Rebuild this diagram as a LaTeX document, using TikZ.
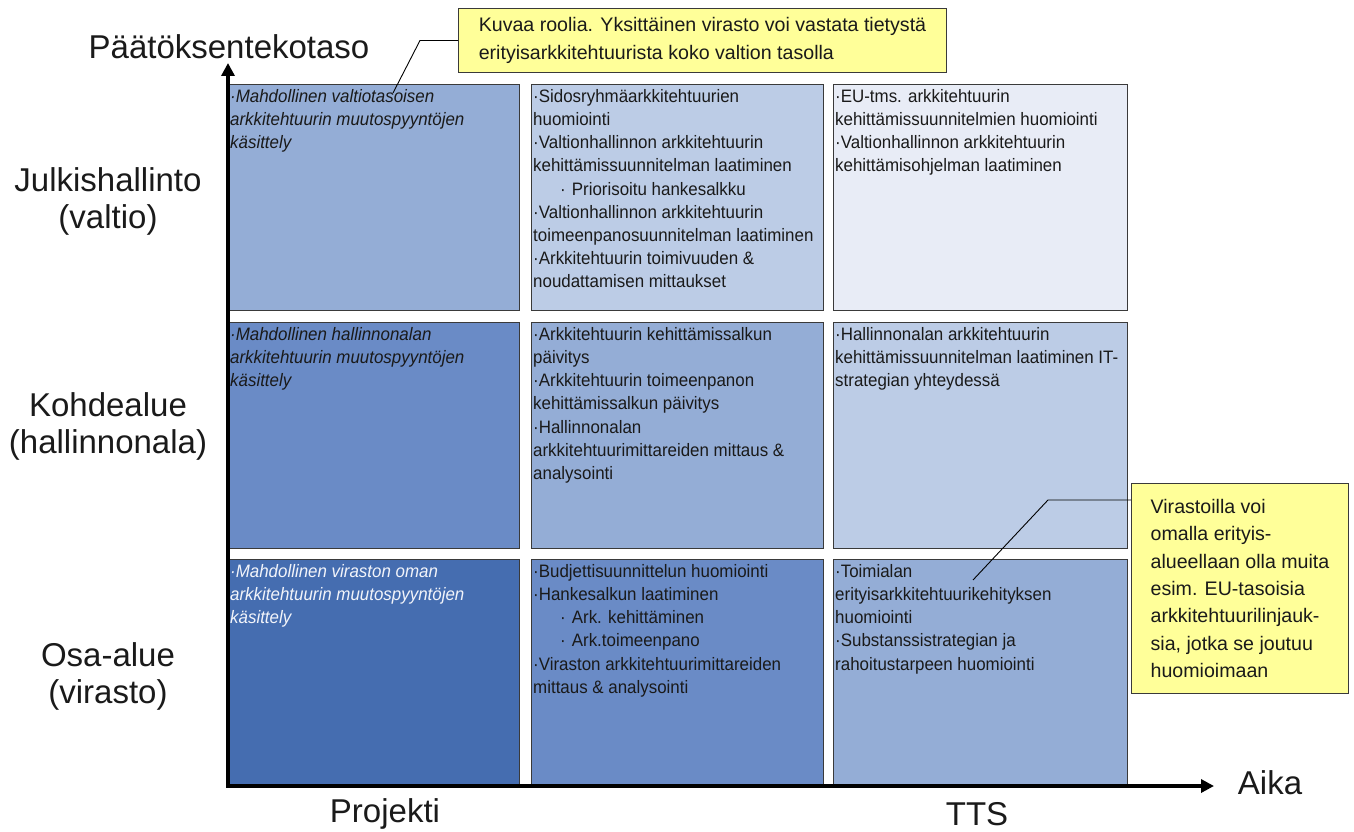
\documentclass[tikz,border=0pt]{standalone}
\usepackage{fontspec}
\setmainfont{Liberation Sans}
\newfontfamily\cellfont[FakeStretch=0.94]{Liberation Sans}
\usetikzlibrary{arrows.meta}

% cell fills, light to dark
\definecolor{blueA}{HTML}{E8ECF6}
\definecolor{blueB}{HTML}{BCCCE6}
\definecolor{blueC}{HTML}{94ADD6}
\definecolor{blueD}{HTML}{6A8BC6}
\definecolor{blueE}{HTML}{456DB0}
\definecolor{cellline}{HTML}{3A3A3A}
\definecolor{notefill}{HTML}{FFFF99}
\definecolor{inkdark}{HTML}{1A1A1A}
\definecolor{inklight}{HTML}{F2F4FA}

\newcommand\itemdot{·}
\newcommand\subdot{\hspace*{27pt}·\hspace{6pt}}
\newcommand\firstline{\rule{0pt}{13pt}}

\begin{document}
\begin{tikzpicture}[x=1pt,y=-1pt,
  cellbox/.style={draw=cellline, line width=1pt, anchor=north west, inner sep=0pt,
                  minimum width=292pt, minimum height=226pt},
  celltext/.style={anchor=north west, inner sep=0pt, align=left, text=inkdark,
                   font=\cellfont\fontsize{18}{23.2}\selectfont},
  notebox/.style={draw=cellline, line width=1pt, fill=notefill, anchor=north west,
                  align=left, text=inkdark, inner xsep=12pt,
                  font=\fontsize{19.6}{27.4}\selectfont},
  leader/.style={draw=black, line width=0.9pt},
  biglabel/.style={align=center, text=inkdark, font=\fontsize{33}{37}\selectfont},
  axis/.style={line width=4pt, -{Triangle[length=13pt,width=13pt]}}
]
\useasboundingbox (0,0) rectangle (1354,832);

% ---- grid of cells: rows = decision level, columns = time span ----
\node[cellbox, fill=blueC, minimum width=291pt] (c11) at (228,84)  {};
\node[cellbox, fill=blueB] (c12) at (531,84)  {};
\node[cellbox, fill=blueA, minimum width=294pt] (c13) at (833,84)  {};
\node[cellbox, fill=blueD, minimum width=291pt] (c21) at (228,322) {};
\node[cellbox, fill=blueC] (c22) at (531,322) {};
\node[cellbox, fill=blueB, minimum width=294pt] (c23) at (833,322) {};
\node[cellbox, fill=blueE, minimum width=291pt] (c31) at (228,559) {};
\node[cellbox, fill=blueD] (c32) at (531,559) {};
\node[cellbox, fill=blueC, minimum width=294pt] (c33) at (833,559) {};

% ---- cell contents ----
\node[celltext, font=\cellfont\fontsize{18}{23.2}\selectfont\itshape] (t11) at ([shift={(2,5)}]c11.north west)
  {\firstline\itemdot Mahdollinen valtiotasoisen\\arkkitehtuurin muutospyyntöjen\\käsittely};
\node[celltext] (t12) at ([shift={(2,5)}]c12.north west)
  {\firstline\itemdot Sidosryhmäarkkitehtuurien\\huomiointi\\
   \itemdot Valtionhallinnon arkkitehtuurin\\kehittämissuunnitelman laatiminen\\
   \subdot Priorisoitu hankesalkku\\
   \itemdot Valtionhallinnon arkkitehtuurin\\toimeenpanosuunnitelman laatiminen\\
   \itemdot Arkkitehtuurin toimivuuden \&\\noudattamisen mittaukset};
\node[celltext] (t13) at ([shift={(2,5)}]c13.north west)
  {\firstline\itemdot EU-tms. arkkitehtuurin\\kehittämissuunnitelmien huomiointi\\
   \itemdot Valtionhallinnon arkkitehtuurin\\kehittämisohjelman laatiminen};

\node[celltext, font=\cellfont\fontsize{18}{23.2}\selectfont\itshape] (t21) at ([shift={(2,5)}]c21.north west)
  {\firstline\itemdot Mahdollinen hallinnonalan\\arkkitehtuurin muutospyyntöjen\\käsittely};
\node[celltext] (t22) at ([shift={(2,5)}]c22.north west)
  {\firstline\itemdot Arkkitehtuurin kehittämissalkun\\päivitys\\
   \itemdot Arkkitehtuurin toimeenpanon\\kehittämissalkun päivitys\\
   \itemdot Hallinnonalan\\arkkitehtuurimittareiden mittaus \&\\analysointi};
\node[celltext] (t23) at ([shift={(2,5)}]c23.north west)
  {\firstline\itemdot Hallinnonalan arkkitehtuurin\\kehittämissuunnitelman laatiminen IT-\\strategian yhteydessä};

\node[celltext, text=inklight, font=\cellfont\fontsize{18}{23.2}\selectfont\itshape] (t31) at ([shift={(2,5)}]c31.north west)
  {\firstline\itemdot Mahdollinen viraston oman\\arkkitehtuurin muutospyyntöjen\\käsittely};
\node[celltext] (t32) at ([shift={(2,5)}]c32.north west)
  {\firstline\itemdot Budjettisuunnittelun huomiointi\\
   \itemdot Hankesalkun laatiminen\\
   \subdot Ark. kehittäminen\\
   \subdot Ark.toimeenpano\\
   \itemdot Viraston arkkitehtuurimittareiden\\mittaus \& analysointi};
\node[celltext] (t33) at ([shift={(2,5)}]c33.north west)
  {\firstline\itemdot Toimialan\\erityisarkkitehtuurikehityksen\\huomiointi\\
   \itemdot Substanssistrategian ja\\rahoitustarpeen huomiointi};

% ---- axes ----
\coordinate (origin) at (228,786);
\coordinate (ytip) at (228,63);
\coordinate (xstart) at (226,786);
\coordinate (xtip) at (1214,786);
\draw[axis] (origin) -- (ytip);
\draw[axis] (xstart) -- (xtip);

% ---- axis labels ----
\node[biglabel] (ylab) at (229,47) {Päätöksentekotaso};
\node[biglabel] (xlab) at (1270,783) {Aika};
\node[biglabel] (proj) at (385,814) {Projekti};
\node[biglabel] (tts)  at (977,814) {TTS};
\node[biglabel] (lvl1) at (108,201) {Julkishallinto\\(valtio)};
\node[biglabel] (lvl2) at (108,426) {Kohdealue\\(hallinnonala)};
\node[biglabel] (lvl3) at (108,676) {Osa-alue\\(virasto)};

% ---- notes with leader lines ----
\node[notebox, minimum width=488pt, minimum height=64pt] (noteA) at (458,8)
  {Kuvaa roolia. Yksittäinen virasto voi vastata tietystä\\erityisarkkitehtuurista koko valtion tasolla};
\node[notebox, minimum width=217pt, minimum height=210pt, inner xsep=16pt] (noteB) at (1131,483)
  {Virastoilla voi\\omalla erityis-\\alueellaan olla muita\\esim. EU-tasoisia\\arkkitehtuurilinjauk-\\sia, jotka se joutuu\\huomioimaan};

\coordinate (leadA) at (393,93);
\coordinate (leadB) at (973,580);
\draw[leader] (noteA.west) -- ++(-38,0) -- (leadA);
\draw[leader] (noteB.west |- 0,500) -- (1048,500) -- (leadB);
\end{tikzpicture}
\end{document}
